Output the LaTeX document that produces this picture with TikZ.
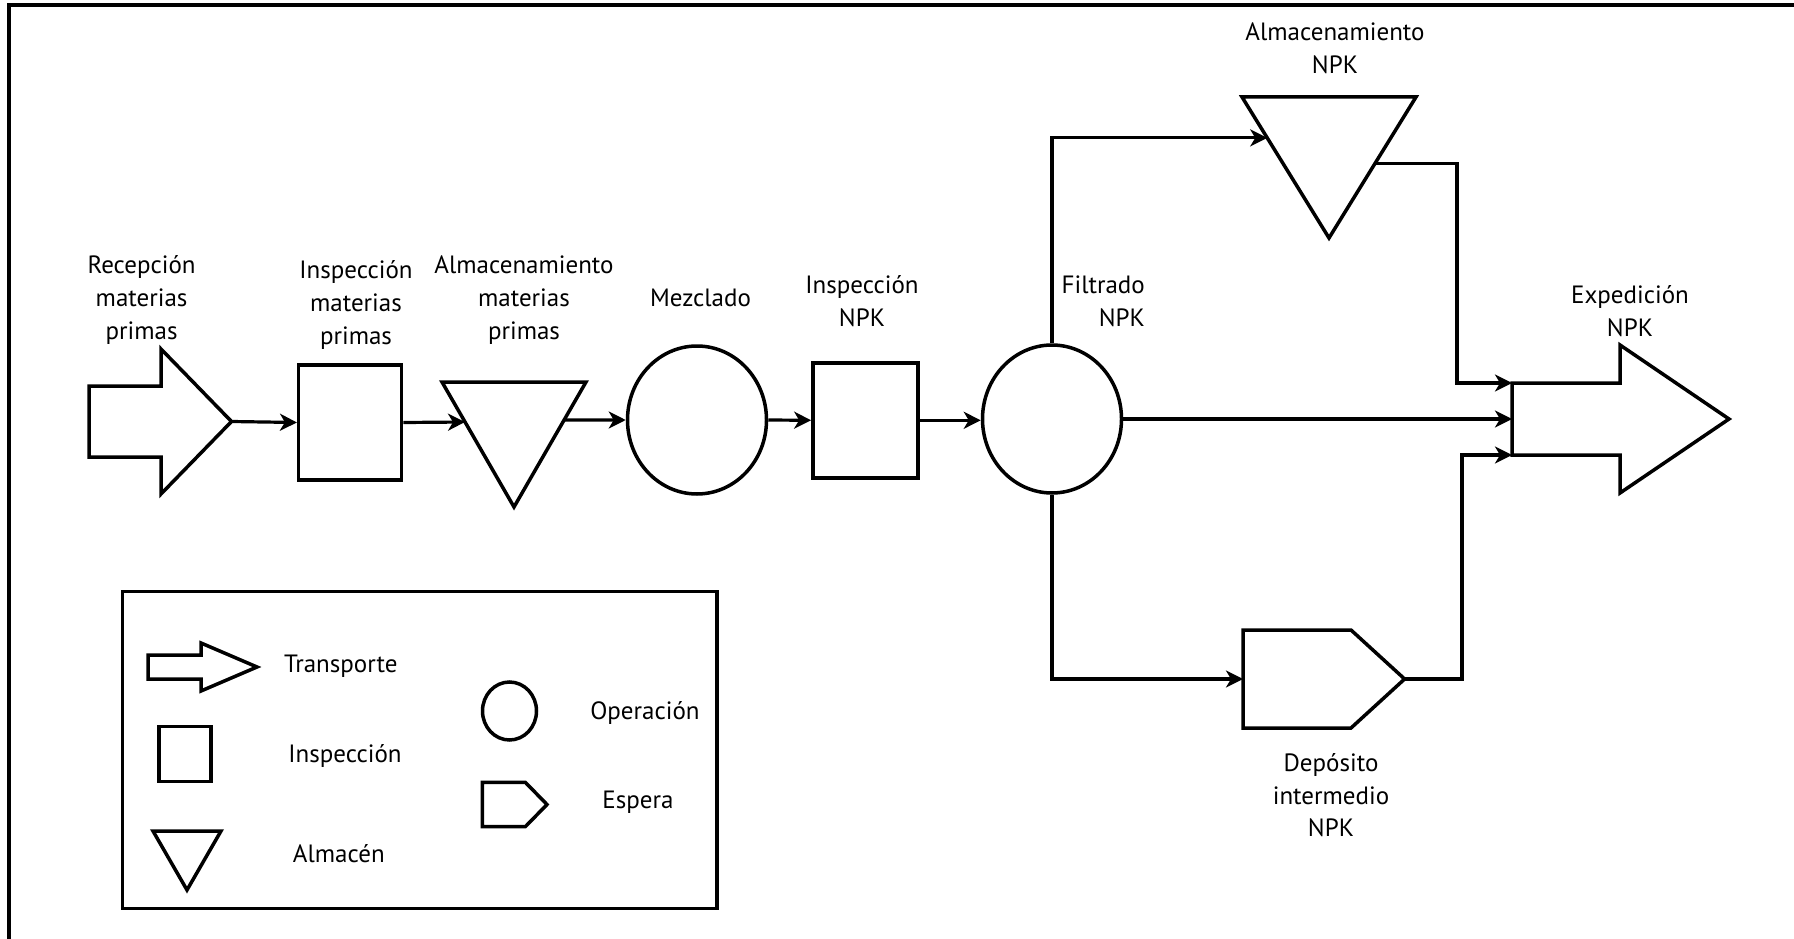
\documentclass[tikz,border=0pt]{standalone}
\usepackage{fontspec}
\setmainfont{PT Sans}
\usetikzlibrary{arrows.meta,calc,shapes.geometric}
\begin{document}
\begin{tikzpicture}[x=1pt,y=-1pt,
  shp/.style={draw=black,line width=3.5pt,line join=miter},
  box/.style={shp,rectangle,inner sep=0pt},
  oval/.style={shp,ellipse,inner sep=0pt},
  conn/.style={line width=3.2pt,-{Stealth[length=17pt,width=17pt,inset=5pt]}},
  lbl/.style={font=\fontsize{25}{33}\selectfont,align=center,inner sep=0pt,text=black},
]
\useasboundingbox (0,0) rectangle (1794,939);
% frame (only top and left visible)
\draw[line width=3.5pt] (9,939) -- (9,5) -- (1794,5);

% Recepcion materias primas (transport arrow)
\draw[shp] (89,386) -- (161,386) -- (161,349) -- (231.5,421.5) -- (161,494) -- (161,457) -- (89,457) -- cycle;
\coordinate (recepTip) at (231.5,421.5);
\node[lbl] (tRecep) at (141.6,300) {Recepción\\materias\\primas};

% Inspeccion materias primas
\node[box,minimum width=103pt,minimum height=115pt] (inspMP) at (350.2,422.5) {};
\node[lbl] (tInspMP) at (356,305) {Inspección\\materias\\primas};

% Almacenamiento materias primas
\coordinate (aMPL) at (442,382);
\coordinate (aMPR) at (586,382);
\coordinate (aMPB) at (514,507);
\draw[shp] (aMPL) -- (aMPR) -- (aMPB) -- cycle;
\coordinate (aMPin) at ($(aMPL)!0.32!(aMPB)$);
\coordinate (aMPout) at ($(aMPR)!0.304!(aMPB)$);
\node[lbl] (tAlmMP) at (524,300) {Almacenamiento\\materias\\primas};

% Mezclado
\node[oval,minimum width=139pt,minimum height=148pt] (mez) at (697,420) {};
\node[lbl] (tMez) at (700.5,298) {Mezclado};

% Inspeccion NPK
\node[box,minimum width=105pt,minimum height=115pt] (inspNPK) at (865.4,420.3) {};
\node[lbl] (tInspNPK) at (862,301.5) {Inspección\\NPK};

% Filtrado NPK
\node[oval,minimum width=139pt,minimum height=148pt] (filt) at (1052,419) {};
\node[lbl,align=right,anchor=east] (tFilt) at (1145,301.5) {Filtrado\\NPK};

% Almacenamiento NPK
\coordinate (aNL) at (1242,97);
\coordinate (aNR) at (1416,97);
\coordinate (aNB) at (1329,238);
\draw[shp] (aNL) -- (aNR) -- (aNB) -- cycle;
\coordinate (aNin) at ($(aNL)!0.29!(aNB)$);
\coordinate (aNout) at ($(aNR)!0.47!(aNB)$);
\node[lbl] (tAlmNPK) at (1335,48.5) {Almacenamiento\\NPK};

% Expedicion NPK
\draw[shp] (1512,383) -- (1620,383) -- (1620,345) -- (1729,419) -- (1620,493) -- (1620,455) -- (1512,455) -- cycle;
\coordinate (expT) at (1512,383);
\coordinate (expM) at (1512,419);
\coordinate (expB) at (1512,455);
\node[lbl] (tExp) at (1630,311.5) {Expedición\\NPK};

% Deposito intermedio NPK
\draw[shp] (1243,630) -- (1351,630) -- (1404.6,679) -- (1351,728) -- (1243,728) -- cycle;
\coordinate (depIn) at (1243,679);
\coordinate (depOut) at (1404.6,679);
\node[lbl,font=\fontsize{25}{32.5}\selectfont] (tDep) at (1331,795.5) {Depósito\\intermedio\\NPK};

% turning points
\coordinate (turnA) at (1457,383);
\coordinate (turnB) at (1462,455);

% connectors
\draw[conn] (recepTip) -- (inspMP.west);
\draw[conn] (inspMP.east) -- (aMPin);
\draw[conn] (aMPout) -- (mez.west);
\draw[conn] (mez.east) -- (inspNPK.west);
\draw[conn] (inspNPK.east) -- (inspNPK.east -| filt.west);
\draw[conn] (filt.north) |- (aNin);
\draw[conn] (aNout) -| (turnA) -- (expT);
\draw[conn] (filt.east) -- (expM);
\draw[conn] (filt.south) |- (depIn);
\draw[conn] (depOut) -| (turnB) -- (expB);

% legend
\node[box,minimum width=594.6pt,minimum height=316.6pt] (legend) at (419.7,750) {};
\draw[shp] (148,655) -- (201,655) -- (201,643) -- (257,667) -- (201,691) -- (201,679) -- (148,679) -- cycle;
\node[lbl] (lgTrans) at (340.8,666.7) {Transporte};
\node[box,minimum width=52pt,minimum height=55pt] (lgInsp) at (185.2,754.2) {};
\node[lbl] (lgInspT) at (345,756) {Inspección};
\draw[shp] (153,831) -- (221,831) -- (187,890) -- cycle;
\node[lbl] (lgAlmT) at (338.8,853.3) {Almacén};
\node[oval,minimum width=54pt,minimum height=58pt] (lgOp) at (509.5,711) {};
\node[lbl] (lgOpT) at (645,712.7) {Operación};
\draw[shp] (482.4,782.3) -- (525.3,782.3) -- (547,804.5) -- (525.3,826.7) -- (482.4,826.7) -- cycle;
\node[lbl] (lgEspT) at (638,802.3) {Espera};
\end{tikzpicture}
\end{document}
